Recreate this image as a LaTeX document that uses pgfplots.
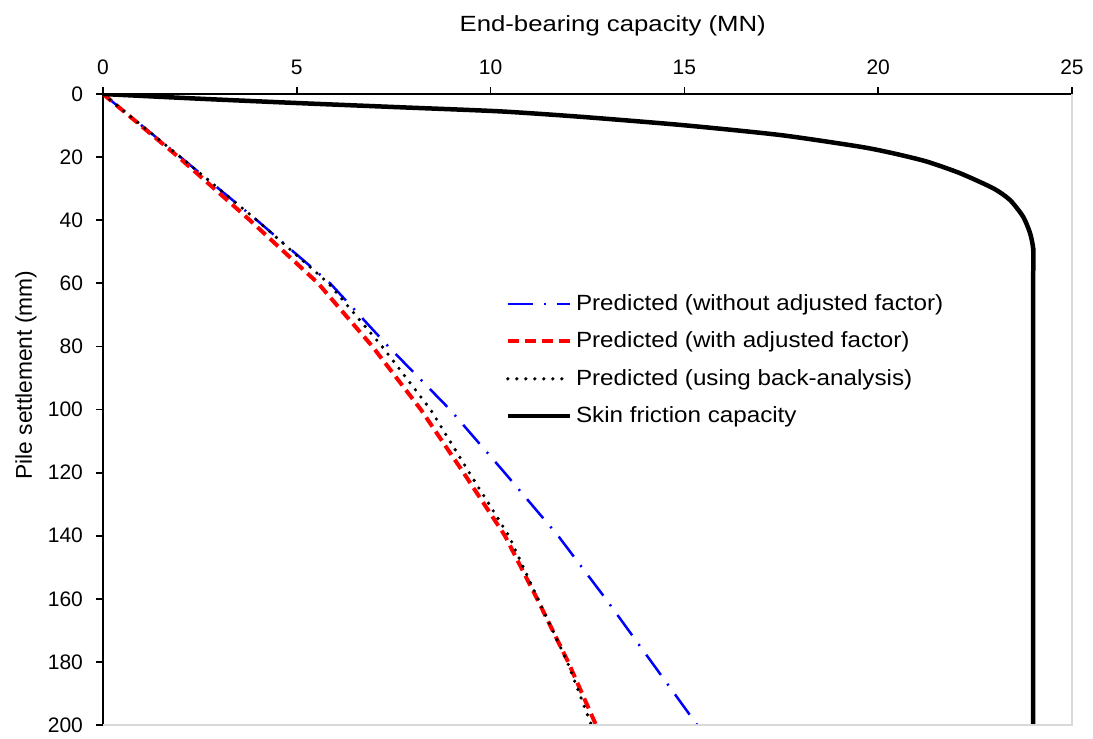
\documentclass[border=0pt]{standalone}
\usepackage{fontspec}
\setmainfont{Liberation Sans}
\newfontfamily\legendfont{Liberation Sans}[FakeStretch=1.1]
\newfontfamily\titlefont{Liberation Sans}[FakeStretch=1.17]
\usepackage{pgfplots}
\pgfplotsset{compat=1.18}
\definecolor{framegray}{HTML}{D9D9D9}
\begin{document}
\begin{tikzpicture}
\begin{axis}[
  name=ax,
  scale only axis, width=484.5pt, height=315.5pt,
  xmin=0, xmax=25, ymin=0, ymax=200, y dir=reverse,
  axis x line*=top, axis y line*=left,
  axis line style={-, black, line width=0.9pt},
  xtick={0,5,...,25}, ytick={0,20,...,200},
  tick align=outside, major tick length=3.5pt,
  tick style={black, line width=0.9pt},
  /pgf/number format/assume math mode=true,
  tick label style={font=\fontsize{10.5}{12}\selectfont},
  xticklabel style={yshift=2.5pt},
  yticklabel style={xshift=-3pt},
  xlabel={End-bearing capacity (MN)},
  ylabel={Pile settlement (mm)},
  every axis x label/.style={at={(axis description cs:0.526,1)}, anchor=base,
    yshift=31.5pt, font=\titlefont\fontsize{11}{13}\selectfont},
  every axis y label/.style={at={(axis description cs:-0.0733,0.5547)}, rotate=90,
    anchor=base, font=\fontsize{11.4}{13}\selectfont},
  legend style={at={(axis description cs:0.415,0.689)}, anchor=north west,
    draw=none, fill=none, font=\legendfont\fontsize{11}{13.2}\selectfont,
    row sep=5.2pt, inner sep=0pt},
  legend cell align=left,
  legend image code/.code={\draw[#1] (0pt,0pt) -- (31pt,0pt);},
]
% predicted response, no adjustment factor
\addplot[blue, line width=1.25pt, dash pattern=on 12.5pt off 5.5pt on 1pt off 5.5pt]
  coordinates {(0,0) (2.0,20) (3.97,40) (5.86,60) (7.36,80) (8.95,100) (10.36,120)
    (11.74,140) (12.97,160) (14.15,180) (15.33,200)};
\addlegendentry{Predicted (without adjusted factor)}
% predicted response, adjusted factor
\addplot[red, line width=2pt, dash pattern=on 5.5pt off 3pt]
  coordinates {(0,0) (1.95,20) (3.79,40) (5.55,60) (6.95,80) (8.2,100) (9.3,120)
    (10.37,140) (11.2,160) (12.0,180) (12.72,200)};
\addlegendentry{Predicted (with adjusted factor)}
% predicted response, back-analysed parameters
\addplot[black, line width=1.8pt, line cap=round, dash pattern=on 0pt off 4.5pt]
  coordinates {(0,0) (2.0,20) (3.97,40) (5.82,60) (7.2,80) (8.45,100) (9.45,120)
    (10.47,140) (11.22,160) (11.98,180) (12.6,200)};
\addlegendentry{Predicted (using back-analysis)}
% skin friction mobilisation
\addplot[black, line width=2.25pt, smooth, tension=0.4]
  coordinates {(0,0) (2.5,1.5) (5.08,2.9) (7.66,4.2) (10.24,5.5) (12.3,7.2)
    (14.9,9.8) (17.47,13) (19.53,16.7) (20.39,18.8) (21.25,21.4) (22.11,25.1)
    (22.97,29.9) (23.4,33.6) (23.74,38.9) (23.92,44.2) (24,49.4) (24,60) (24,200)};
\addlegendentry{Skin friction capacity}
\end{axis}
% light frame on the right and bottom sides of the plot area
\draw[framegray, line width=0.9pt] (ax.north east) -- (ax.south east) -- (ax.south west);
\pgfresetboundingbox
\path ([xshift=-51.5pt,yshift=-7pt]ax.south west) rectangle ([xshift=10.5pt,yshift=47pt]ax.north east);
\end{tikzpicture}
\end{document}
